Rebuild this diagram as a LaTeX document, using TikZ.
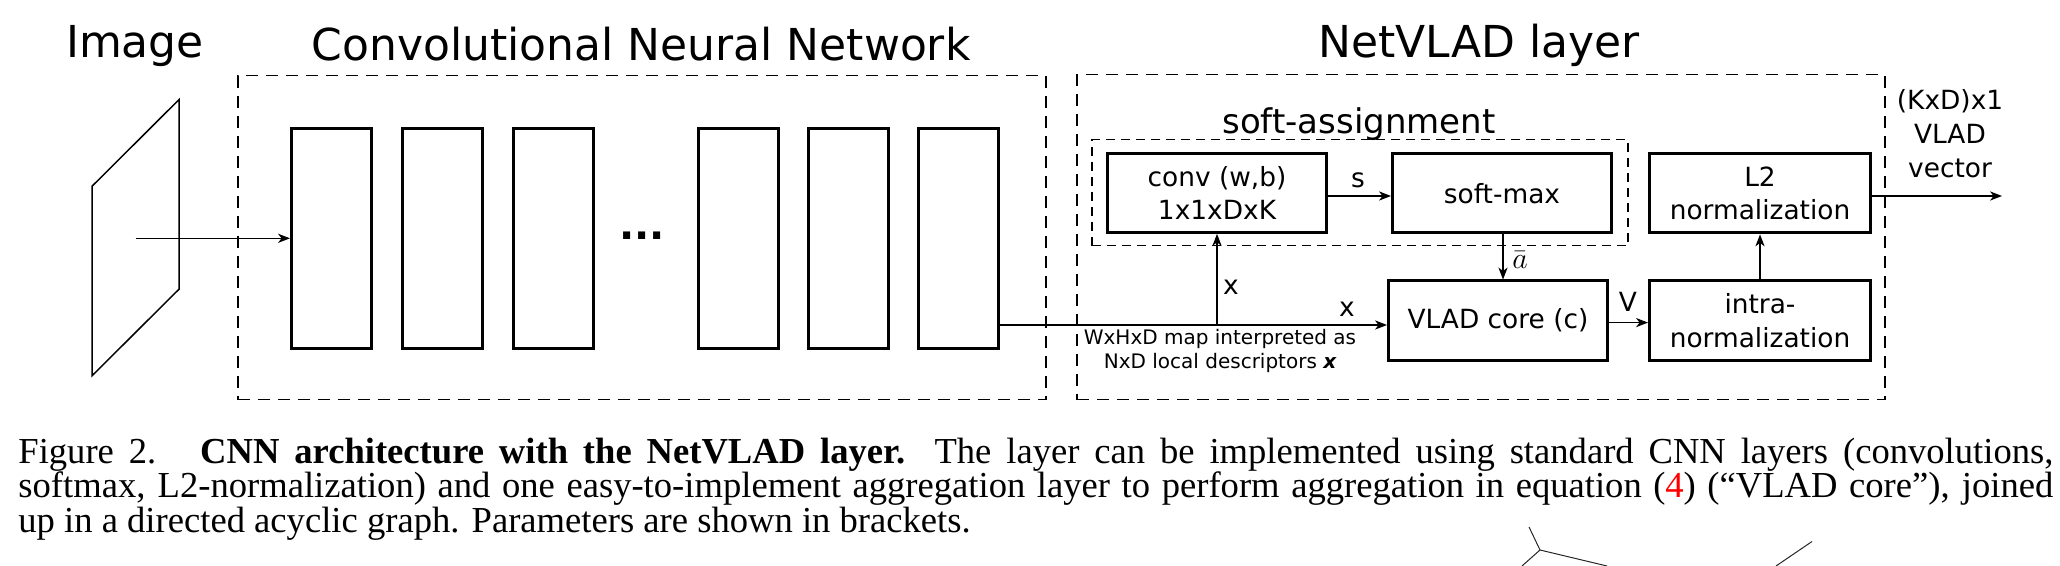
\RequirePackage{fix-cm}
\documentclass[tikz,border=0pt]{standalone}
\usepackage{fontspec}
\setmainfont{DejaVu Sans}
\newfontfamily\tms{Liberation Serif}
\usetikzlibrary{arrows.meta}
\begin{document}
\begin{tikzpicture}[x=0.5pt,y=-0.5pt,
  >={Stealth[length=6pt,width=4.6pt,inset=1.8pt]},
  layer/.style={draw,line width=1.5pt,minimum width=40pt,minimum height=110pt,inner sep=0pt},
  blk/.style={draw,line width=1.5pt,minimum width=109.5pt,minimum height=39.6pt,inner sep=0pt,align=center,font=\fontsize{13.2}{16.8}\selectfont},
  conn/.style={line width=0.6pt,->},
  thinline/.style={line width=0.6pt},
  grp/.style={draw,line width=0.65pt,dash pattern=on 6pt off 4pt,inner sep=0pt},
  sgrp/.style={draw,line width=0.65pt,dash pattern=on 4.5pt off 3pt,inner sep=0pt},
  ttl/.style={font=\fontsize{22}{26}\selectfont,anchor=base,inner sep=0pt},
  lbl/.style={font=\fontsize{13.2}{17}\selectfont,inner sep=0pt},
  captxt/.style={font=\tms\fontsize{18.3}{17.3}\selectfont,anchor=base west,inner sep=0pt},
  frag/.style={line width=0.5pt,black!85},
]
\useasboundingbox (0,0) rectangle (2060,566);
\clip (0,0) rectangle (2060,566);

% titles
\node[ttl] (timg) at (135,57.5) {Image};
\node[ttl] (tcnn) at (641,60.5) {Convolutional Neural Network};
\node[ttl] (tnv) at (1479,57.5) {NetVLAD layer};

% groups
\node[grp,minimum width=404pt,minimum height=162pt] (cnn) at (642,237.7) {};
\node[grp,minimum width=404pt,minimum height=162.5pt] (nv) at (1481,237.2) {};
\node[sgrp,minimum width=268pt,minimum height=53pt] (sa) at (1360,192.8) {};
\node[font=\fontsize{17}{20}\selectfont,anchor=base,inner sep=0pt] (tsa) at (1359,134) {soft-assignment};

% image plane
\draw[line width=0.75pt] (92,186.3) -- (179,99.6) -- (179,289.2) -- (92,375.8) -- cycle;
\coordinate (img) at (135.5,238.3);

% CNN layers
\node[layer] (l1) at (331.5,238.3) {};
\node[layer] (l2x) at (442.5,238.3) {};
\node[layer] (l3) at (553,238.3) {};
\node[font=\bfseries\fontsize{20}{24}\selectfont,anchor=base,inner sep=0pt] (dots) at (642,239.5) {...};
\node[layer] (l4) at (738,238.3) {};
\node[layer] (l5) at (848,238.3) {};
\node[layer] (l6) at (958.5,238.3) {};

\draw[conn] (img) -- (l1.west);

% NetVLAD blocks
\node[blk] (conv) at (1217,192.8) {conv (w,b)\\1x1xDxK};
\node[blk] (smax) at (1502,193.3) {soft-max};
\node[blk,minimum width=110.5pt] (l2) at (1760,193.3) {L2\\normalization};
\node[blk] (vlad) at (1498,320.6) {VLAD core (c)};
\node[blk,minimum width=110.5pt] (intra) at (1760,320.6) {intra-\\normalization};

% connectors
\coordinate (split) at (1217,325);
\draw[thinline] (l6.east |- split) -- (split);
\draw[conn] (split) -- (vlad.west |- split);
\draw[conn] (split) -- (conv.south);
\node[lbl] (lx1) at (1347,309.5) {x};
\node[lbl] (lx2) at (1231,287) {x};
\node[font=\fontsize{10}{11.9}\selectfont,align=center,inner sep=0pt] (maptxt) at (1220,351) {WxHxD map interpreted as\\NxD local descriptors {\bfseries\itshape x}};

\draw[conn] ([yshift=-1.6pt]conv.east) -- ([yshift=-1.6pt]conv.east -| smax.west);
\node[lbl] (ls) at (1358,180) {s};

\draw[conn] ([xshift=0.5pt]smax.south) -- ([xshift=0.5pt]smax.south |- vlad.north);
\node[lbl,font=\fontsize{15}{17}\selectfont] (la) at (1520,260) {$\bar{a}$};

\draw[conn] ([yshift=-1pt]vlad.east) -- ([yshift=-1pt]vlad.east -| intra.west);
\node[lbl] (lv) at (1628,302) {V};

\draw[conn] (intra.north) -- (l2.south);

\coordinate (out) at (2002,196);
\draw[conn] (l2.east |- out) -- (out);
\node[lbl,align=center] (vec) at (1950,133.2) {(KxD)x1\\VLAD\\vector};

% caption
\node[captxt] (c1) at (18,463) {\makebox[1017.5pt][s]{Figure 2.\hspace{1.2em}\textbf{CNN architecture with the NetVLAD layer.} The layer can be implemented using standard CNN layers (convolutions,}};
\node[captxt] (c2) at (18,497.5) {\makebox[1017.5pt][s]{softmax, L2-normalization) and one easy-to-implement aggregation layer to perform aggregation in equation (\textcolor{red}{4}) (“VLAD core”), joined}};
\node[captxt] (c3) at (18,532) {up in a directed acyclic graph. Parameters are shown in brackets.};

% fragment of the next figure
\coordinate (yj) at (1540,550);
\draw[frag] (1529,527) -- (yj) -- (1522,566);
\draw[frag] (yj) -- (1607,566);
\draw[frag] (1812,541.5) -- (1776,566);
\end{tikzpicture}
\end{document}
